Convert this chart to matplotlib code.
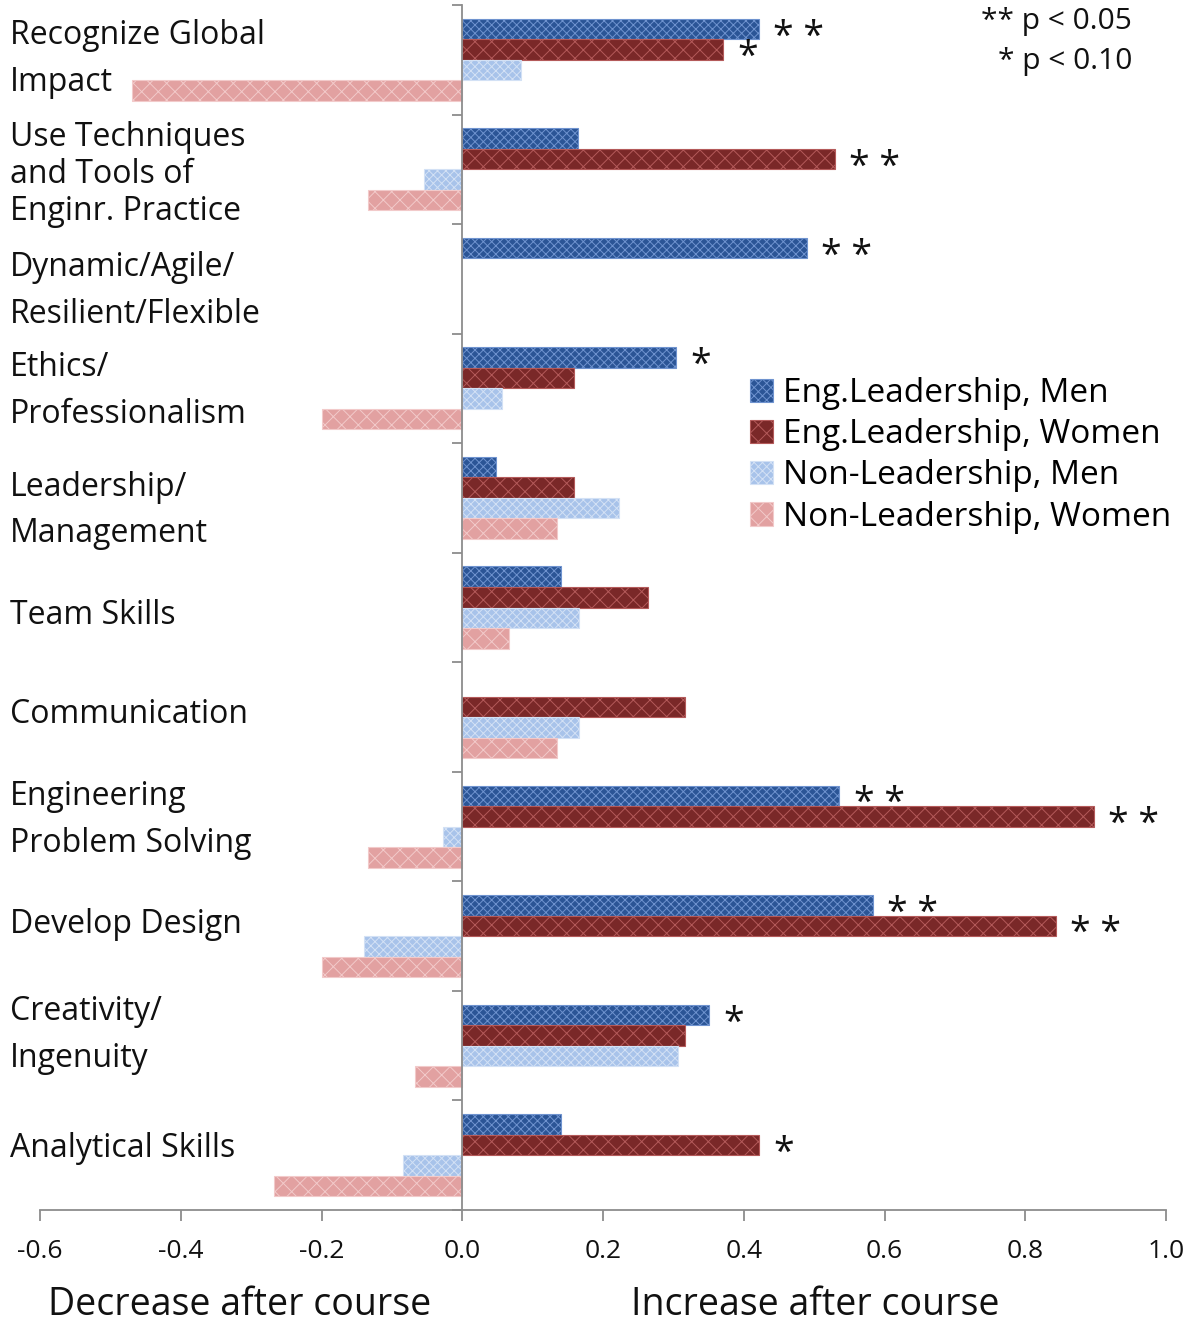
import numpy as np
import matplotlib
matplotlib.use("Agg")
import matplotlib.pyplot as plt
import matplotlib.transforms as mtrans
from matplotlib.patches import Patch

plt.rcParams['font.family'] = ['Open Sans', 'DejaVu Sans']
plt.rcParams['hatch.linewidth'] = 0.7

categories = [
    "Recognize Global\nImpact",
    "Use Techniques\nand Tools of\nEnginr. Practice",
    "Dynamic/Agile/\nResilient/Flexible",
    "Ethics/\nProfessionalism",
    "Leadership/\nManagement",
    "Team Skills",
    "Communication",
    "Engineering\nProblem Solving",
    "Develop Design",
    "Creativity/\nIngenuity",
    "Analytical Skills",
]
series_names = ["Eng.Leadership, Men", "Eng.Leadership, Women",
                "Non-Leadership, Men", "Non-Leadership, Women"]

el_men = [0.421, 0.165, 0.490, 0.304, 0.048, 0.141, np.nan, 0.536, 0.583, 0.351, 0.141]
el_women = [0.371, 0.529, np.nan, 0.159, 0.159, 0.264, 0.317, 0.897, 0.843, 0.317, 0.422]
nl_men = [0.084, -0.055, np.nan, 0.057, 0.223, 0.166, 0.166, -0.027, -0.139, 0.307, -0.084]
nl_women = [-0.469, -0.134, np.nan, -0.200, 0.134, 0.067, 0.134, -0.134, -0.200, -0.067, -0.267]

sig_el_men = ["* *", "", "* *", "*", "", "", "", "* *", "* *", "*", ""]
sig_el_women = ["*", "* *", "", "", "", "", "", "* *", "* *", "", "*"]

xticks = [-0.6, -0.4, -0.2, 0.0, 0.2, 0.4, 0.6, 0.8, 1.0]

# layout: small vertical nudges of the category labels (in group units)
label_nudge = [-0.008, 0.047, 0.114, 0.023, 0.114, 0.072, -0.024, -0.057, -0.107, -0.099, -0.062]

series = [el_men, el_women, nl_men, nl_women]
sigs = [sig_el_men, sig_el_women, None, None]
faces = ["#2B5596", "#7A2828", "#A8C3EA", "#E2A1A1"]
edges = ["#6F93CF", "#B45A5A", "#D3E1F5", "#F2CACA"]
hatches = ["xxxx", "xx", "xxxx", "xx"]

W, H = 1185, 1325
fig = plt.figure(figsize=(W / 100, H / 100), dpi=100)
ax = fig.add_axes([40 / W, 1 - 1210 / H, (1166 - 40) / W, (1210 - 5) / H])

n = len(categories)
y = np.arange(n)
h = 0.1875
for k, (vals, fc, ec, ht) in enumerate(zip(series, faces, edges, hatches)):
    ax.barh(y + (k - 1.5) * h, vals, height=h, color=fc, edgecolor=ec,
            hatch=ht, linewidth=0.8, label=series_names[k])
    if sigs[k] is not None:
        for i, s in enumerate(sigs[k]):
            if s:
                ax.text(vals[i] + 0.02, y[i] + (k - 1.5) * h + 0.17, s,
                        ha='left', va='baseline', fontsize=27, color='#111111')

ax.set_xlim(-0.6, 1.0)
ax.set_ylim(n - 0.5, -0.5)

for sp in ['top', 'right']:
    ax.spines[sp].set_visible(False)
ax.spines['left'].set_position(('data', 0))
ax.spines['left'].set_color('#8c8c8c')
ax.spines['left'].set_linewidth(1.3)
ax.spines['bottom'].set_color('#8c8c8c')
ax.spines['bottom'].set_linewidth(1.3)

ax.set_yticks(np.arange(n + 1) - 0.5)
ax.set_yticklabels([])
ax.tick_params(axis='y', length=7, width=1.3, color='#8c8c8c', direction='out')
ax.set_xticks(xticks)
ax.set_xticklabels([f"{t:.1f}" for t in xticks])
ax.tick_params(axis='x', length=8, width=1.3, color='#8c8c8c', direction='out',
               labelsize=19, pad=13, labelcolor='#111111')

tr = mtrans.blended_transform_factory(fig.transFigure, ax.transData)
for i, lab in enumerate(categories):
    nl = lab.count("\n")
    ls = 1.55 if nl == 1 else 1.16
    ax.text(10 / W, y[i] + label_nudge[i], lab, transform=tr,
            ha='left', va='center', fontsize=23, linespacing=ls, color='#111111')

handles = [Patch(facecolor=faces[k], edgecolor=edges[k], hatch=hatches[k], linewidth=0.8)
           for k in range(4)]
fig.legend(handles, series_names, loc='upper left', bbox_to_anchor=(750 / W, 1 - 377 / H),
           frameon=False, fontsize=24, handlelength=0.7, handleheight=0.7,
           handletextpad=0.28, labelspacing=0.245, borderpad=0, borderaxespad=0)

fig.text(1132 / W, 1 - 22 / H, "** p < 0.05", ha='right', va='center', fontsize=21.5, color='#111111')
fig.text(1132 / W, 1 - 62 / H, "* p < 0.10", ha='right', va='center', fontsize=21.5, color='#111111')

fig.text(240 / W, 1 - 1305 / H, "Decrease after course", ha='center', va='center', fontsize=27, color='#111111')
fig.text(815 / W, 1 - 1305 / H, "Increase after course", ha='center', va='center', fontsize=27, color='#111111')

fig.savefig("out.png", dpi=100)
